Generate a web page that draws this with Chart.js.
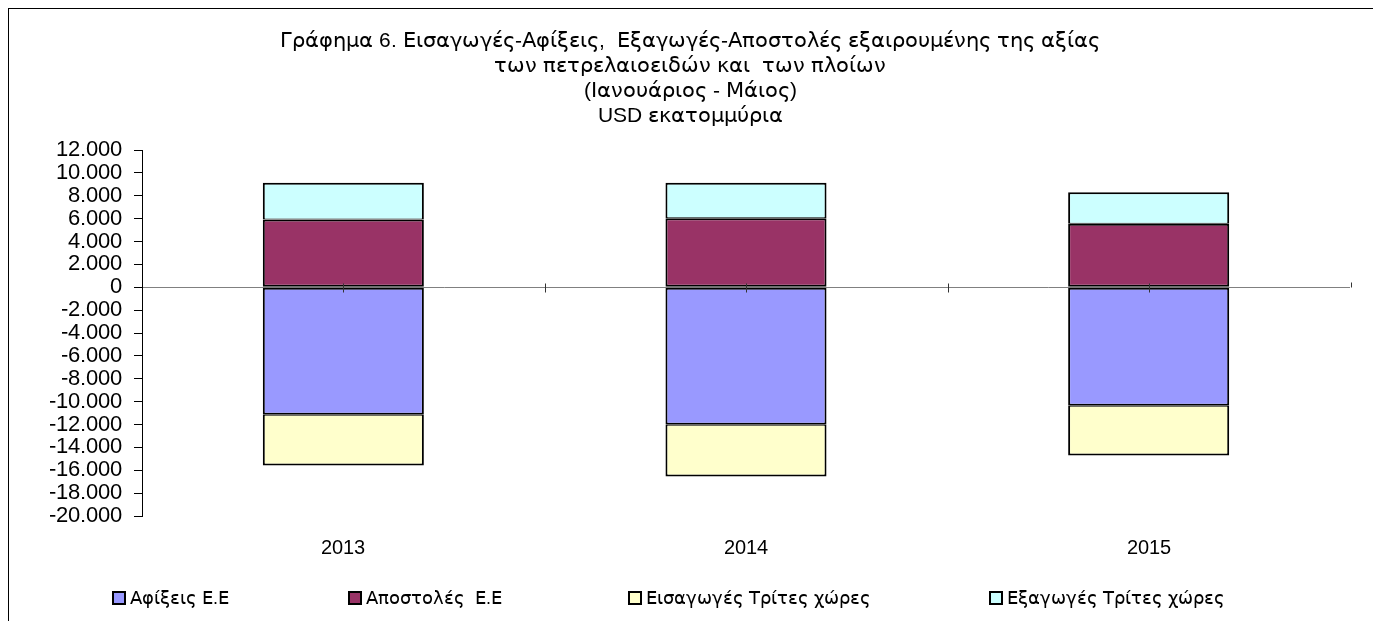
<!DOCTYPE html>
<html>
<head>
<meta charset="utf-8">
<script src="https://cdn.jsdelivr.net/npm/chart.js@4.4.1/dist/chart.umd.min.js"></script>
<style>
@font-face { font-family: 'MixGr'; src: local('Liberation Sans'), local('LiberationSans'), local('Liberation Sans Regular'), local('LiberationSans-Regular'); unicode-range: U+0000-036F, U+2000-206F; }
@font-face { font-family: 'MixGr'; src: local('DejaVu Sans'), local('DejaVuSans'); unicode-range: U+0370-03FF, U+1F00-1FFF; }
html,body{margin:0;padding:0;background:#fff;}
#wrap{position:absolute;left:0;top:0;width:1373px;height:621px;}
#probe{font-family:MixGr;position:absolute;left:-9999px;}
</style>
</head>
<body>
<div id="probe">Αα abc 012</div>
<div id="wrap"><canvas id="c" width="1373" height="621"></canvas></div>
<script>
// ---- data ----
const years = ['2013', '2014', '2015'];
const arrivalsEU = [-11150, -12020, -10360];     // Αφίξεις Ε.Ε
const dispatchesEU = [5930, 6040, 5550];         // Αποστολές Ε.Ε
const importsThird = [-4440, -4530, -4350];      // Εισαγωγές Τρίτες χώρες
const exportsThird = [3210, 3100, 2770];         // Εξαγωγές Τρίτες χώρες
const titleLines = [
  'Γράφημα 6. Εισαγωγές-Αφίξεις,  Εξαγωγές-Αποστολές εξαιρουμένης της αξίας',
  'των πετρελαιοειδών και  των πλοίων',
  '(Ιανουάριος - Μάιος)',
  'USD εκατομμύρια'
];
const seriesNames = ['Αφίξεις Ε.Ε', 'Αποστολές  Ε.Ε', 'Εισαγωγές Τρίτες χώρες', 'Εξαγωγές Τρίτες χώρες'];
const seriesColors = ['#9999FF', '#993366', '#FFFFCC', '#CCFFFF'];

const FONT = 'MixGr, "Liberation Sans", Arial, sans-serif';

const fmt = v => {
  const s = Math.abs(v).toString().replace(/\B(?=(\d{3})+(?!\d))/g, '.');
  return (v < 0 ? '-' : '') + s;
};

const frame = {
  id: 'frame',
  afterDraw(chart) {
    const ctx = chart.ctx;
    ctx.save();
    ctx.strokeStyle = '#000';
    ctx.lineWidth = 1;
    ctx.strokeRect(8.5, 8.5, 1400, 700);
    // x-axis tick marks on the zero line
    const x = chart.scales.x, y = chart.scales.y;
    const y0 = Math.round(y.getPixelForValue(0)) + 0.5;
    const half = (x.getPixelForValue(1) - x.getPixelForValue(0)) / 2;
    ctx.strokeStyle = '#333';
    for (let i = 0; i < years.length; i++) {
      const cx = Math.round(x.getPixelForValue(i)) + 0.5;
      ctx.beginPath(); ctx.moveTo(cx, y0 - 4); ctx.lineTo(cx, y0 + 5); ctx.stroke();
      const bx = Math.round(cx + half) + 0.5;
      ctx.beginPath();
      if (i === years.length - 1) { ctx.moveTo(bx, y0 - 5); ctx.lineTo(bx, y0); }
      else { ctx.moveTo(bx, y0 - 4); ctx.lineTo(bx, y0 + 5); }
      ctx.stroke();
    }
    // legend
    const lx = [113, 349, 629, 990];
    const ly = 598;
    ctx.font = '18px ' + FONT;
    ctx.textBaseline = 'middle';
    chart.data.datasets.forEach((ds, i) => {
      ctx.fillStyle = ds.backgroundColor;
      ctx.fillRect(lx[i], ly - 6, 12, 12);
      ctx.strokeStyle = '#000';
      ctx.lineWidth = 2;
      ctx.strokeRect(lx[i], ly - 6, 12, 12);
      ctx.fillStyle = '#000';
      ctx.fillText(ds.label, lx[i] + 17, ly + 1);
    });
    ctx.restore();
  }
};

const borders = [
  { top: 2, bottom: 2, left: 2, right: 2 },
  { top: 2, bottom: 2, left: 2, right: 2 },
  { top: 1, bottom: 2, left: 2, right: 2 },
  { top: 2, bottom: 1, left: 2, right: 2 }
];

const datasets = [arrivalsEU, dispatchesEU, importsThird, exportsThird].map((d, i) => ({
  label: seriesNames[i],
  data: d,
  backgroundColor: seriesColors[i],
  borderColor: '#000',
  borderWidth: borders[i],
  borderSkipped: false,
  barPercentage: 0.4,
  categoryPercentage: 1.0
}));

function draw() {
  new Chart(document.getElementById('c'), {
    type: 'bar',
    data: { labels: years, datasets },
    plugins: [frame],
    options: {
      responsive: false,
      animation: false,
      layout: { padding: { left: 30, right: 23, top: 8, bottom: 41 } },
      plugins: {
        legend: { display: false },
        tooltip: { enabled: false },
        title: {
          display: true,
          text: titleLines,
          color: '#000',
          font: { family: FONT, size: 20.5, weight: 'normal', lineHeight: 1.22 },
          padding: { top: 20.5, bottom: 21.5 }
        }
      },
      scales: {
        x: {
          stacked: true,
          grid: { display: false, drawTicks: false },
          border: { display: false },
          ticks: { color: '#000', font: { family: FONT, size: 20 }, padding: 20 }
        },
        y: {
          stacked: true,
          min: -20000,
          max: 12000,
          afterFit(scale) { scale.width = 112; },
          border: { display: true, color: '#000', width: 1 },
          grid: {
            drawOnChartArea: true,
            color: ctx => (ctx.tick && ctx.tick.value === 0) ? '#808080' : 'rgba(0,0,0,0)',
            tickColor: '#000',
            tickLength: 8
          },
          ticks: {
            stepSize: 2000,
            autoSkip: false,
            color: '#000',
            padding: 12,
            font: { family: FONT, size: 22 },
            callback: v => fmt(v)
          }
        }
      }
    }
  });
}

Promise.all([
  document.fonts.load('20px MixGr', 'Γράφημα abc 012'),
  document.fonts.load('18px MixGr', 'abc 012')
]).then(draw, draw);
</script>
</body>
</html>
